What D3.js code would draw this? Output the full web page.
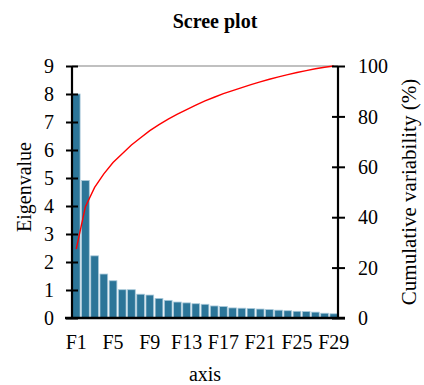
<!DOCTYPE html>
<html>
<head>
<meta charset="utf-8">
<script src="https://cdn.jsdelivr.net/npm/d3@7"></script>
<style>
  html, body { margin: 0; padding: 0; background: #fff; }
  svg { display: block; font-family: "Liberation Serif", "Times New Roman", serif; }
</style>
</head>
<body>
<svg id="chart" width="424" height="385"></svg>
<script>
const categories = ["F1","F2","F3","F4","F5","F6","F7","F8","F9","F10","F11","F12","F13","F14","F15","F16","F17","F18","F19","F20","F21","F22","F23","F24","F25","F26","F27","F28","F29"];
const eigenvalues = [8.00, 4.91, 2.22, 1.57, 1.33, 1.01, 1.01, 0.85, 0.82, 0.70, 0.63, 0.57, 0.54, 0.51, 0.49, 0.43, 0.41, 0.36, 0.35, 0.34, 0.32, 0.30, 0.28, 0.26, 0.24, 0.23, 0.21, 0.17, 0.15];
const leftTicks = [0,1,2,3,4,5,6,7,8,9];
const rightTicks = [0,20,40,60,80,100];
const xTickLabels = ["F1","F5","F9","F13","F17","F21","F25","F29"];

const total = d3.sum(eigenvalues);
let run = 0;
const cumulative = eigenvalues.map(v => (run += v) / total * 100);

const svg = d3.select("#chart");
const L = 72, R = 338, T = 66, B = 318;

const x = d3.scaleBand().domain(categories).range([L, R]).paddingInner(0.16).paddingOuter(0.04);
const y = d3.scaleLinear().domain([0, 9]).range([B, T]);
const y2 = d3.scaleLinear().domain([0, 100]).range([B, T]);

// top gridline
svg.append("line").attr("x1", L).attr("x2", R).attr("y1", y(9)).attr("y2", y(9))
  .attr("stroke", "#c0c0c0").attr("stroke-width", 2);

// bars
svg.append("g").selectAll("rect").data(eigenvalues).join("rect")
  .attr("x", (d, i) => x(categories[i]))
  .attr("width", x.bandwidth())
  .attr("y", d => y(d))
  .attr("height", d => y(0) - y(d))
  .attr("fill", "#2c7598")
  .attr("stroke", "#a9c9da")
  .attr("stroke-width", 0.8);

// cumulative line
const line = d3.line()
  .x((d, i) => x(categories[i]) + x.bandwidth() / 2)
  .y(d => y2(d));
svg.append("path").datum(cumulative).attr("d", line)
  .attr("fill", "none").attr("stroke", "#ff0000").attr("stroke-width", 1.4);

// left axis
const leftAxis = d3.axisLeft(y).tickValues(leftTicks).tickSize(6).tickPadding(12);
const gL = svg.append("g").attr("transform", `translate(${L},0)`).call(leftAxis);
gL.select(".domain").attr("stroke", "#000").attr("stroke-width", 2.2).attr("d", `M0,${T}V${B}`);
gL.selectAll(".tick line").attr("stroke", "#000").attr("stroke-width", 2).attr("x1", 6);
gL.selectAll(".tick text").attr("font-size", 20).attr("font-family", "Liberation Serif").attr("fill", "#000").attr("dy", "0.33em");

// right axis
const rightAxis = d3.axisRight(y2).tickValues(rightTicks).tickSize(7).tickPadding(13);
const gR = svg.append("g").attr("transform", `translate(${R},0)`).call(rightAxis);
gR.select(".domain").attr("stroke", "#000").attr("stroke-width", 2.2).attr("d", `M0,${T}V${B}`);
gR.selectAll(".tick line").attr("stroke", "#000").attr("stroke-width", 2).attr("x1", -6);
gR.selectAll(".tick text").attr("font-size", 20).attr("font-family", "Liberation Serif").attr("fill", "#000").attr("dy", "0.33em");

// bottom axis
const bottomAxis = d3.axisBottom(x).tickValues(xTickLabels).tickSize(0).tickPadding(17);
const gB = svg.append("g").attr("transform", `translate(0,${B})`).call(bottomAxis);
gB.select(".domain").attr("stroke", "#000").attr("stroke-width", 2.4).attr("d", `M${L - 7},0H${R + 7}`);
gB.selectAll(".tick text").attr("font-size", 20).attr("font-family", "Liberation Serif").attr("fill", "#000");

// titles
svg.append("text").attr("x", 215).attr("y", 28).attr("text-anchor", "middle")
  .attr("font-size", 20).attr("font-weight", "bold").text("Scree plot");
svg.append("text").attr("x", 205).attr("y", 381).attr("text-anchor", "middle")
  .attr("font-size", 20).text("axis");
svg.append("text").attr("transform", "translate(31,187) rotate(-90)").attr("text-anchor", "middle")
  .attr("font-size", 20).text("Eigenvalue");
svg.append("text").attr("transform", "translate(416,192) rotate(-90)").attr("text-anchor", "middle")
  .attr("font-size", 21).text("Cumulative variability (%)");
</script>
</body>
</html>
